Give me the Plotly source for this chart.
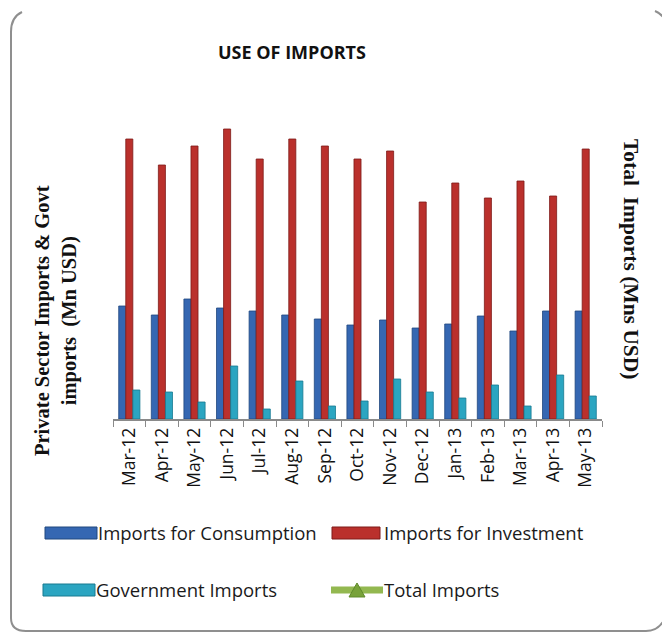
import plotly.graph_objects as go

months = ["Mar-12", "Apr-12", "May-12", "Jun-12", "Jul-12", "Aug-12", "Sep-12", "Oct-12",
          "Nov-12", "Dec-12", "Jan-13", "Feb-13", "Mar-13", "Apr-13", "May-13"]
consumption = [452, 416, 480, 444, 432, 416, 400, 376, 396, 364, 380, 412, 352, 432, 432]
investment = [1120, 1016, 1092, 1160, 1040, 1120, 1092, 1040, 1072, 868, 944, 884, 952, 892, 1080]
government = [116, 108, 68, 212, 40, 152, 52, 72, 160, 108, 84, 136, 52, 176, 92]

W, H = 662, 633
ML, MR, MT, MB = 113, 60, 110, 214
PW, PH = W - ML - MR, H - MT - MB


def px(X, Y):
    return (X - ML) / PW, (H - MB - Y) / PH


FONT = "Open Sans"
BLUE, BLUE_D = "#3567b2", "#21487f"
RED, RED_D = "#ba302c", "#7e1a18"
CYAN, CYAN_D = "#2ba5c1", "#187a90"

fig = go.Figure()
fig.add_bar(x=months, y=consumption, name="Imports for Consumption",
            marker=dict(color=BLUE, line=dict(color=BLUE_D, width=0.8)))
fig.add_bar(x=months, y=investment, name="Imports for Investment",
            marker=dict(color=RED, line=dict(color=RED_D, width=0.8)))
fig.add_bar(x=months, y=government, name="Government Imports",
            marker=dict(color=CYAN, line=dict(color=CYAN_D, width=0.8)))

shapes = []
annotations = []


def P(X, Y):
    a, b = px(X, Y)
    return f"{a:.5f},{b:.5f}"


border = (f"M{P(22,12)} Q{P(11,17)} {P(11,32)} L{P(11,618)} Q{P(11,631)} {P(26,631)} "
          f"L{P(646,631)} Q{P(658,631)} {P(664,620)}")
shapes.append(dict(type="path", xref="paper", yref="paper", path=border,
                   line=dict(color="#8f8f8f", width=2)))
shapes.append(dict(type="path", xref="paper", yref="paper",
                   path=f"M{P(655,11)} Q{P(660,13)} {P(664,18)}",
                   line=dict(color="#8f8f8f", width=2)))


def rect(x0, y0, x1, y1, fill, edge):
    a0, b0 = px(x0, y1)
    a1, b1 = px(x1, y0)
    shapes.append(dict(type="rect", xref="paper", yref="paper", x0=a0, y0=b0, x1=a1, y1=b1,
                       fillcolor=fill, line=dict(color=edge, width=1)))


rect(45, 527, 97, 539, BLUE, BLUE_D)
rect(332, 527, 380, 539, RED, RED_D)
rect(43, 584, 95, 596, CYAN, CYAN_D)
a0, b0 = px(331, 590)
a1, _ = px(383, 590)
shapes.append(dict(type="line", xref="paper", yref="paper", x0=a0, y0=b0, x1=a1, y1=b0,
                   line=dict(color="#93b850", width=7)))
tri = f"M{P(349,597)} L{P(357,583)} L{P(365,597)} Z"
shapes.append(dict(type="path", xref="paper", yref="paper", path=tri,
                   fillcolor="#78a23a", line=dict(color="#5f8a2a", width=1)))


def label(X, Y, text):
    a, b = px(X, Y)
    annotations.append(dict(x=a, y=b, xref="paper", yref="paper", text=text, showarrow=False,
                            xanchor="left", yanchor="middle",
                            font=dict(family=FONT, size=18.5, color="#1a1a1a")))


label(96, 532, "Imports for Consumption")
label(382, 532, "Imports for Investment")
label(94, 589, "Government Imports")
label(382, 589, "Total Imports")

a, b = px(292, 52)
annotations.append(dict(x=a, y=b, xref="paper", yref="paper", text="<b>USE OF IMPORTS</b>",
                        showarrow=False, xanchor="center", yanchor="middle",
                        font=dict(family=FONT, size=18, color="#111111")))

a, b = px(56, 321)
annotations.append(dict(x=a, y=b, xref="paper", yref="paper",
                        text="<b>Private Sector Imports & Govt<br>imports  (Mn USD)</b>",
                        showarrow=False, textangle=-90, xanchor="center", yanchor="middle",
                        font=dict(family="Liberation Serif", size=20.5, color="#111111")))
a, b = px(631, 259)
annotations.append(dict(x=a, y=b, xref="paper", yref="paper",
                        text="<b>Total  Imports (Mns USD)</b>",
                        showarrow=False, textangle=90, xanchor="center", yanchor="middle",
                        font=dict(family="Liberation Serif", size=21.5, color="#111111")))

fig.update_layout(
    width=W, height=H,
    margin=dict(l=ML, r=MR, t=MT, b=MB),
    paper_bgcolor="white", plot_bgcolor="white",
    barmode="group", bargap=0.35, bargroupgap=0.0,
    showlegend=False,
    shapes=shapes, annotations=annotations,
)
fig.update_xaxes(showline=True, linecolor="#8a8a8a", linewidth=1.5, ticks="outside",
                 tickson="boundaries", ticklen=6, tickcolor="#8a8a8a", tickangle=-90,
                 tickfont=dict(family=FONT, size=17.5, color="#111111"), showgrid=False)
fig.update_yaxes(range=[0, PH * 4], showticklabels=False, showgrid=False, zeroline=False,
                 showline=False, ticks="")

fig.write_html("out.html", config={"displayModeBar": False},
               post_script="document.body.style.margin='0';document.body.style.padding='0';")
